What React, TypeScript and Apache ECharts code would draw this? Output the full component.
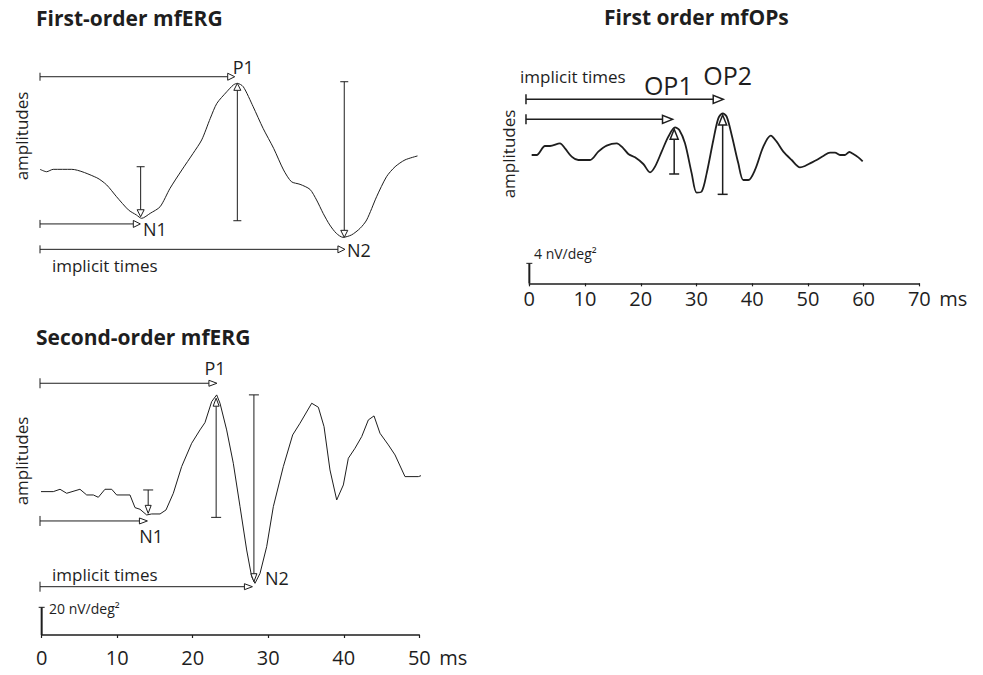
import React, { useEffect, useRef } from "react";
import * as echarts from "echarts";

const FONT = "'Open Sans', 'Noto Sans', sans-serif";
const INK = "#1e1e1e";

// ---- First-order mfERG (time in ms, amplitude in nV/deg², baseline = 0)
const erg1Time = [0, 1.0, 2.0, 4.8, 8.6, 10.1, 11.6, 13.4, 14.6, 15.4, 16.7, 18.2, 19.7, 21.5, 23.2, 24.5, 25.8, 26.8, 28.3, 29.3, 29.9, 30.8, 32.3, 33.8, 35.4, 36.9, 38.1, 39.4, 40.9, 41.9, 42.9, 43.9, 44.9, 45.9, 47.2, 48.5, 49.5, 51.0, 52.5, 53.8, 55.3, 57.2];
const erg1Amp = [0, -1.2, 0, 0, -4.2, -7.8, -13.7, -20.3, -22.8, -24.5, -22.0, -18.7, -9.5, -0.3, 8.0, 14.7, 25.5, 33.0, 38.8, 42.2, 43.0, 41.3, 31.3, 20.5, 10.5, -0.3, -6.2, -7.5, -10.0, -15.3, -22.0, -27.8, -32.0, -34.0, -32.8, -29.5, -25.3, -13.7, -3.7, 1.3, 4.7, 6.7];
// arrows: [x0, y0, x1, y1]  (serif at start, open head at end)
const erg1Arrows = [
  [0, 46.3, 29.5, 46.3],
  [0, -27.3, 15.2, -27.3],
  [0, -40, 46.2, -40],
  [15.25, 1.3, 15.25, -23.7],
  [29.9, -25.7, 29.9, 43],
  [46.1, 43.8, 46.1, -34],
];
const erg1Labels = [
  { text: "P1", x: 30.8, y: 51.2, align: "center", kind: "peak" },
  { text: "N1", x: 15.6, y: -29.8, align: "left", kind: "peak" },
  { text: "N2", x: 46.5, y: -40.3, align: "left", kind: "peak" },
  { text: "implicit times", x: 1.8, y: -48.3, align: "left", kind: "note" },
];

// ---- First order mfOPs
const opTime = [0.42, 1.32, 2.81, 3.71, 5.5, 6.4, 7.6, 8.79, 10.89, 12.38, 13.88, 15.68, 16.87, 17.77, 18.97, 20.46, 21.66, 22.56, 23.75, 24.95, 26.15, 26.92, 27.94, 29.14, 30.03, 30.93, 31.83, 33.03, 33.92, 34.7, 35.42, 36.32, 37.51, 38.41, 39.31, 40.5, 42.0, 43.32, 44.39, 45.59, 47.09, 48.58, 49.48, 50.38, 51.57, 52.77, 53.97, 54.86, 55.76, 56.66, 57.44, 58.15, 59.05, 59.83];
const opAmp = [0, 0, 1.8, 1.8, 2.33, 1.33, -0.33, -1.0, -1.0, 0.67, 1.87, 2.33, 1.33, 0.2, -0.47, -1.8, -3.47, -2.33, 0.67, 3.67, 5.53, 5.0, 2.33, -3.67, -7.53, -7.33, -3.67, 3.0, 7.33, 8.33, 7.67, 4.0, -1.67, -5.0, -5.0, -3.0, 1.67, 3.87, 2.67, 0.67, -1.0, -2.47, -2.2, -1.67, -1.0, -0.2, 0.47, 0.47, 0, 0, 0.6, 0.2, -0.47, -1.27];
const opArrows = [
  [-0.6, 11.13, 34.8, 11.13],
  [-0.6, 7.13, 25.7, 7.13],
  [26.0, -3.8, 26.0, 5.13],
  [34.7, -7.87, 34.7, 8.0],
];
const opScaleBar = [[0, -25.67, 0, -21.67]];
const opLabels = [
  { text: "implicit times", x: -1.67, y: 15.66, align: "left", kind: "note" },
  { text: "OP1", x: 24.94, y: 14, align: "center", kind: "op" },
  { text: "OP2", x: 35.6, y: 16, align: "center", kind: "op" },
  { text: "4 nV/deg²", x: 0.84, y: -19.8, align: "left", kind: "scale" },
];
const opTicks = { min: 0, max: 70, step: 10 };

// ---- Second-order mfERG
const erg2Time = [-0.22, 1.54, 2.43, 3.31, 5.07, 5.96, 6.84, 7.5, 8.38, 9.27, 9.93, 11.69, 12.36, 13.02, 13.9, 14.56, 15.67, 16.46, 17.43, 18.53, 19.86, 20.96, 21.62, 22.51, 23.17, 23.61, 24.49, 25.37, 26.26, 27.14, 27.8, 28.24, 28.91, 29.79, 30.67, 31.99, 33.23, 34.2, 35.75, 36.63, 37.38, 38.17, 39.06, 39.94, 40.6, 41.48, 42.37, 43.25, 44.0, 44.79, 45.9, 46.78, 48.1, 49.87, 50.62, 51.5];
const erg2Amp = [0, 0, 1.69, -1.2, 1.69, -2.41, -2.41, -4.1, 1.69, 1.69, -2.41, -2.41, -11.57, -12.77, -16.87, -16.14, -16.14, -13.25, -1.2, 18.07, 34.94, 44.58, 49.88, 65.06, 69.88, 63.86, 44.58, 20.48, -10.84, -42.17, -61.45, -66.27, -59.04, -39.76, -10.84, 18.07, 40.96, 49.4, 63.86, 60.96, 46.99, 15.66, -6.02, 4.82, 24.1, 31.33, 39.76, 51.81, 54.7, 42.17, 33.73, 26.51, 10.84, 10.84, 12.29, 7.71];
const erg2Arrows = [
  [-0.22, 78.3, 23.2, 78.3],
  [-0.22, -21.2, 14.0, -21.2],
  [-0.22, -68.7, 27.9, -68.7],
  [14.1, 1.2, 14.1, -15.7],
  [23.1, -18.6, 23.1, 67.5],
  [28.1, 69.9, 28.1, -65.1],
];
const erg2ScaleBar = [[0, -103.6, 0, -83.6]];
const erg2Labels = [
  { text: "P1", x: 22.95, y: 89.4, align: "center", kind: "peak" },
  { text: "N1", x: 14.5, y: -31.8, align: "center", kind: "peak" },
  { text: "N2", x: 29.57, y: -62.4, align: "left", kind: "peak" },
  { text: "implicit times", x: 1.37, y: -60.2, align: "left", kind: "note" },
  { text: "20 nV/deg²", x: 0.97, y: -84.1, align: "left", kind: "scale" },
];
const erg2Ticks = { min: 0, max: 50, step: 10 };

const titles = ["First-order mfERG", "First order mfOPs", "Second-order mfERG"];
const unitLabel = "ms";
const sideLabel = "amplitudes";

const LABEL_SIZE: Record<string, number> = { peak: 18, note: 17, op: 25, scale: 14 };

function zip(a: number[], b: number[]) {
  return a.map((v, i) => [v, b[i]]);
}

function arrowSeries(grid: number, arrows: number[][], head: number, half: number, serif: number, lw: number) {
  return {
    type: "custom",
    xAxisIndex: grid,
    yAxisIndex: grid,
    silent: true,
    z: 3,
    data: arrows,
    renderItem: (_p: any, api: any) => {
      const a = api.coord([api.value(0), api.value(1)]);
      const b = api.coord([api.value(2), api.value(3)]);
      const dx = b[0] - a[0];
      const dy = b[1] - a[1];
      const len = Math.sqrt(dx * dx + dy * dy) || 1;
      const ux = dx / len, uy = dy / len;
      const nx = -uy, ny = ux;
      const base = [b[0] - ux * head, b[1] - uy * head];
      const st = { stroke: INK, lineWidth: lw, fill: null };
      return {
        type: "group",
        children: [
          { type: "line", shape: { x1: a[0], y1: a[1], x2: base[0], y2: base[1] }, style: st },
          { type: "line", shape: { x1: a[0] + nx * serif, y1: a[1] + ny * serif, x2: a[0] - nx * serif, y2: a[1] - ny * serif }, style: st },
          {
            type: "polygon",
            shape: { points: [[b[0], b[1]], [base[0] + nx * half, base[1] + ny * half], [base[0] - nx * half, base[1] - ny * half]] },
            style: { stroke: INK, lineWidth: lw, fill: "#fff" },
          },
        ],
      };
    },
  };
}

function barSeries(grid: number, bars: number[][]) {
  return {
    type: "custom",
    xAxisIndex: grid,
    yAxisIndex: grid,
    silent: true,
    z: 4,
    data: bars,
    renderItem: (_p: any, api: any) => {
      const a = api.coord([api.value(0), api.value(1)]);
      const b = api.coord([api.value(2), api.value(3)]);
      const st = { stroke: INK, lineWidth: 2, fill: null };
      return {
        type: "group",
        children: [
          { type: "line", shape: { x1: a[0], y1: a[1], x2: b[0], y2: b[1] }, style: st },
          { type: "line", shape: { x1: b[0] - 3, y1: b[1], x2: b[0] + 3, y2: b[1] }, style: { stroke: INK, lineWidth: 1, fill: null } },
        ],
      };
    },
  };
}

function labelSeries(grid: number, labels: any[]) {
  return {
    type: "custom",
    xAxisIndex: grid,
    yAxisIndex: grid,
    silent: true,
    z: 5,
    data: labels.map((l) => [l.x, l.y]),
    renderItem: (params: any, api: any) => {
      const l = labels[params.dataIndex];
      const p = api.coord([api.value(0), api.value(1)]);
      return {
        type: "text",
        x: p[0],
        y: p[1],
        style: {
          text: l.text,
          fontSize: LABEL_SIZE[l.kind],
          fontFamily: FONT,
          fill: INK,
          align: l.align,
          verticalAlign: "middle",
        },
      };
    },
  };
}

function traceSeries(grid: number, data: number[][], width: number, smooth: number) {
  return {
    type: "line",
    xAxisIndex: grid,
    yAxisIndex: grid,
    data,
    showSymbol: false,
    symbol: "none",
    clip: false,
    smooth,
    silent: true,
    z: 2,
    lineStyle: { color: INK, width },
  };
}

function visibleX(grid: number, t: { min: number; max: number; step: number }, margin: number) {
  return {
    gridIndex: grid,
    type: "value",
    min: t.min,
    max: t.max,
    interval: t.step,
    axisLine: { show: true, onZero: false, lineStyle: { color: INK, width: 1.5 } },
    axisTick: { show: true, length: 3, lineStyle: { color: INK, width: 1.2 } },
    axisLabel: { color: INK, fontSize: 20, fontFamily: FONT, margin },
    splitLine: { show: false },
    name: unitLabel,
    nameLocation: "end",
    nameGap: 20,
    nameTextStyle: { color: INK, fontSize: 20, fontFamily: FONT, align: "left", verticalAlign: "top", padding: [margin, 0, 0, 0] },
  };
}

export default function App() {
  const ref = useRef<HTMLDivElement>(null);
  useEffect(() => {
    if (!ref.current) return;
    const chart = echarts.init(ref.current, null, { renderer: "svg" });
    const titleStyle = { fontSize: 21, fontWeight: "bold", fontFamily: FONT, color: INK };
    const sideText = (x: number, y: number) => ({
      type: "text",
      x,
      y,
      rotation: Math.PI / 2,
      style: { text: sideLabel, fontSize: 17, fontFamily: FONT, fill: INK, align: "center", verticalAlign: "middle" },
    });
    chart.setOption({
      animation: false,
      backgroundColor: "#fff",
      title: [
        { text: titles[0], left: 36, top: 7, padding: 0, textStyle: titleStyle },
        { text: titles[1], left: 604, top: 6, padding: 0, textStyle: titleStyle },
        { text: titles[2], left: 36, top: 326, padding: 0, textStyle: titleStyle },
      ],
      grid: [
        { left: 40, top: 69.33, width: 396, height: 200 },
        { left: 529.33, top: 55, width: 390, height: 228.33 },
        { left: 41.67, top: 380.9, width: 377.67, height: 254.1 },
      ],
      xAxis: [
        { gridIndex: 0, type: "value", min: 0, max: 60, show: false },
        visibleX(1, opTicks, 5),
        visibleX(2, erg2Ticks, 12),
      ],
      yAxis: [
        { gridIndex: 0, type: "value", min: -50, max: 50, show: false },
        { gridIndex: 1, type: "value", min: -25.67, max: 20, show: false },
        { gridIndex: 2, type: "value", min: -103.6, max: 80, show: false },
      ],
      graphic: [sideText(21, 136), sideText(508, 154), sideText(21, 461)],
      series: [
        traceSeries(0, zip(erg1Time, erg1Amp), 1, 0.25),
        arrowSeries(0, erg1Arrows, 7, 3.5, 4, 1),
        labelSeries(0, erg1Labels),
        traceSeries(1, zip(opTime, opAmp), 1.8, 0.3),
        arrowSeries(1, opArrows, 10, 4, 5, 1.5),
        barSeries(1, opScaleBar),
        labelSeries(1, opLabels),
        traceSeries(2, zip(erg2Time, erg2Amp), 1, 0),
        arrowSeries(2, erg2Arrows, 8, 3, 5, 1),
        barSeries(2, erg2ScaleBar),
        labelSeries(2, erg2Labels),
      ],
    });
    return () => chart.dispose();
  }, []);
  return <div ref={ref} style={{ width: 983, height: 675, position: "absolute", left: 0, top: 0 }} />;
}
